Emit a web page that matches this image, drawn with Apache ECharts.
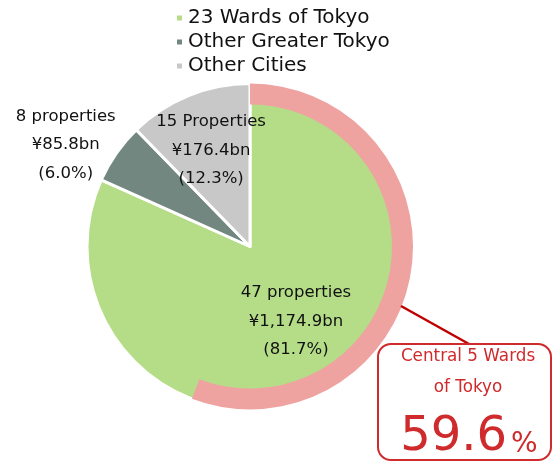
<!DOCTYPE html>
<html>
<head>
<meta charset="utf-8">
<script src="https://cdn.jsdelivr.net/npm/echarts@6/dist/echarts.min.js"></script>
<style>
  html, body { margin: 0; padding: 0; background: #fff; }
  #chart { width: 553px; height: 462px; }
</style>
</head>
<body>
<div id="chart"></div>
<script>
// 地域別の内訳
const categories = ["23 Wards of Tokyo", "Other Greater Tokyo", "Other Cities"];
const shares = [81.7, 6.0, 12.3];
const propertyCounts = ["47 properties", "8 properties", "15 Properties"];
const amounts = ["¥1,174.9bn", "¥85.8bn", "¥176.4bn"];
// 都心5区の外周リング（図上の弧の割合）
const ringShares = [55.8, 44.2];
const ringTitle = ["Central 5 Wards", "of Tokyo"];
const ringValue = "59.6";

const colors = ["#B5DD88", "#71877F", "#C8C8C8"];
const font = "DejaVu Sans";
const red = "#CF2A2C";

// ラベル位置の微調整
const labelShift = [[0, 4], [-115, -53], [-7, -18]];

const chart = echarts.init(document.getElementById("chart"));
const option = {
  animation: false,
  legend: {
    orient: "vertical",
    left: 175,
    top: 6,
    padding: 0,
    itemGap: 0,
    itemWidth: 7,
    itemHeight: 7,
    icon: "rect",
    selectedMode: false,
    textStyle: {
      fontFamily: font,
      fontSize: 20,
      color: "#111",
      lineHeight: 24
    },
    data: categories
  },
  series: [
    {
      type: "pie",
      center: [250, 246.5],
      radius: [0, 163],
      startAngle: 90,
      clockwise: true,
      silent: true,
      itemStyle: {
        borderColor: "#fff",
        borderWidth: 3
      },
      label: {
        show: true,
        position: "inside",
        fontFamily: font,
        fontSize: 16.5,
        color: "#111",
        lineHeight: 28.5,
        align: "center",
        formatter: function (p) {
          const i = p.dataIndex;
          return propertyCounts[i] + "\n" + amounts[i] + "\n(" + shares[i].toFixed(1) + "%)";
        }
      },
      labelLayout: function (p) {
        return { dx: labelShift[p.dataIndex][0], dy: labelShift[p.dataIndex][1] };
      },
      labelLine: { show: false },
      data: categories.map(function (name, i) {
        return { name: name, value: shares[i], itemStyle: { color: colors[i] } };
      })
    },
    {
      type: "pie",
      center: [250, 246.5],
      radius: [142, 163],
      startAngle: 90,
      clockwise: true,
      silent: true,
      z: 3,
      label: { show: false },
      labelLine: { show: false },
      data: [
        { name: "central5", value: ringShares[0], itemStyle: { color: "#EFA3A0" } },
        { name: "rest", value: ringShares[1], itemStyle: { color: "rgba(0,0,0,0)" } }
      ]
    }
  ],
  graphic: [
    {
      type: "line",
      z: 10,
      shape: { x1: 401, y1: 306, x2: 469, y2: 344 },
      style: { stroke: "#C00000", lineWidth: 2.5 }
    },
    {
      type: "rect",
      z: 10,
      shape: { x: 378, y: 344, width: 173, height: 116, r: 13 },
      style: { fill: "#fff", stroke: red, lineWidth: 2 }
    },
    {
      type: "text",
      z: 11,
      x: 468,
      y: 357,
      style: {
        text: ringTitle[0],
        fill: red,
        font: "16.8px " + font,
        align: "center",
        verticalAlign: "middle"
      }
    },
    {
      type: "text",
      z: 11,
      x: 468,
      y: 388,
      style: {
        text: ringTitle[1],
        fill: red,
        font: "16.8px " + font,
        align: "center",
        verticalAlign: "middle"
      }
    },
    {
      type: "text",
      z: 11,
      x: 507,
      y: 438,
      style: {
        text: ringValue,
        fill: red,
        font: "48px " + font,
        align: "right",
        verticalAlign: "middle"
      }
    },
    {
      type: "text",
      z: 11,
      x: 511,
      y: 445,
      style: {
        text: "%",
        fill: red,
        font: "28px " + font,
        align: "left",
        verticalAlign: "middle"
      }
    }
  ]
};
chart.setOption(option);
</script>
</body>
</html>
